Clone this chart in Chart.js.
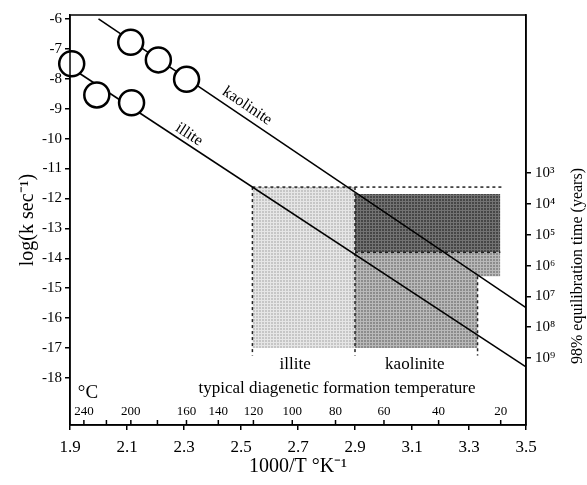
<!DOCTYPE html>
<html>
<head>
<meta charset="utf-8">
<script src="https://cdn.jsdelivr.net/npm/chart.js@4.4.0/dist/chart.umd.min.js"></script>
<style>
  html, body { margin: 0; padding: 0; background: #fff; }
</style>
</head>
<body>
<canvas id="myChart" width="587" height="485"></canvas>
<script>
// measured points (1000/T, log k)
const kaoliniteX = [2.113, 2.21, 2.309];
const kaoliniteY = [-6.78, -7.37, -8.02];
const illiteX = [1.906, 1.994, 2.116];
const illiteY = [-7.5, -8.54, -8.8];

// fitted lines, end points
const kaoliniteFitX = [2.0, 3.5];
const kaoliniteFitY = [-6.0, -15.65];
const illiteFitX = [1.906, 3.5];
const illiteFitY = [-7.65, -17.63];

// shaded boxes: illite, kaolinite (upper), kaolinite (lower parts)
const boxX0 = [2.54, 2.9, 2.9, 2.9];
const boxX1 = [2.9, 3.41, 3.41, 3.33];
const boxTop = [-11.62, -11.85, -13.8, -13.8];
const boxBottom = [-17.0, -13.8, -14.6, -17.0];
const boxTone = ['light', 'dark', 'medium', 'medium'];

// dashed outlines [x0, y0, x1, y1]
const dashSegments = [
    [2.54, -11.62, 2.54, -17.25],
    [2.54, -11.62, 3.415, -11.62],
    [2.9, -11.62, 2.9, -17.25],
    [2.9, -13.8, 3.41, -13.8],
    [3.33, -14.6, 3.33, -17.25]
];

// axis ticks
const xTicks = [1.9, 2.1, 2.3, 2.5, 2.7, 2.9, 3.1, 3.3, 3.5];
const yTicks = [-6, -7, -8, -9, -10, -11, -12, -13, -14, -15, -16, -17, -18];
const timeExponents = [3, 4, 5, 6, 7, 8, 9];
const celsiusTicks = [240, 220, 200, 180, 160, 140, 120, 100, 80, 60, 40, 20];
const celsiusLabels = [240, 200, 160, 140, 120, 100, 80, 60, 40, 20];

const serif = 'Liberation Serif';
const sup = n => String(n).split('').map(c => '⁰¹²³⁴⁵⁶⁷⁸⁹'[+c]).join('');
const toPoints = (xs, ys) => xs.map((x, i) => ({x: x, y: ys[i]}));

let ctx = document.querySelector('#myChart').getContext('2d');

// halftone-like fill: a 3px grid of lighter lines over a base grey
function stipple(base, lines) {
    let c = document.createElement('canvas');
    c.width = 3; c.height = 3;
    let g = c.getContext('2d');
    g.fillStyle = base;
    g.fillRect(0, 0, 3, 3);
    g.fillStyle = lines;
    g.fillRect(0, 0, 3, 1);
    g.fillRect(0, 0, 1, 3);
    return ctx.createPattern(c, 'repeat');
}
const tones = {
    light: stipple('#c6c6c6', '#e6e6e6'),
    dark: stipple('#464646', '#737373'),
    medium: stipple('#8c8c8c', '#b9b9b9')
};

let datasets = [];

// circles on top
datasets.push({
    data: toPoints(kaoliniteX, kaoliniteY).concat(toPoints(illiteX, illiteY)),
    showLine: false,
    pointRadius: 12.5,
    pointBackgroundColor: '#fff',
    pointBorderColor: '#000',
    pointBorderWidth: 2.5,
    clip: false
});

// fit lines
for (const [xs, ys] of [[kaoliniteFitX, kaoliniteFitY], [illiteFitX, illiteFitY]]) {
    datasets.push({
        data: toPoints(xs, ys),
        borderColor: '#000',
        borderWidth: 1.6,
        pointRadius: 0,
        fill: false
    });
}

// dashed box edges
for (const s of dashSegments) {
    datasets.push({
        data: [{x: s[0], y: s[1]}, {x: s[2], y: s[3]}],
        borderColor: '#222',
        borderWidth: 1.5,
        borderDash: [3, 3],
        pointRadius: 0,
        fill: false
    });
}

// boxes: top edge filled down to its bottom edge
for (let i = 0; i < boxX0.length; i++) {
    datasets.push({
        data: [{x: boxX0[i], y: boxTop[i]}, {x: boxX1[i], y: boxTop[i]}],
        borderColor: 'rgba(0,0,0,0)',
        borderWidth: 0,
        pointRadius: 0,
        backgroundColor: tones[boxTone[i]],
        fill: '+1'
    });
    datasets.push({
        data: [{x: boxX0[i], y: boxBottom[i]}, {x: boxX1[i], y: boxBottom[i]}],
        borderColor: 'rgba(0,0,0,0)',
        borderWidth: 0,
        pointRadius: 0,
        fill: false
    });
}

// extra drawing: frame, celsius scale, labels
const extras = {
    id: 'extras',
    afterDraw(chart) {
        const {ctx, chartArea: a, scales: {x, y}} = chart;
        ctx.save();
        ctx.strokeStyle = '#000';
        ctx.lineWidth = 1.5;
        ctx.strokeRect(a.left, a.top, a.right - a.left, a.bottom - a.top);

        // celsius ticks above the bottom axis
        ctx.fillStyle = '#000';
        ctx.textAlign = 'center';
        ctx.textBaseline = 'middle';
        ctx.font = '13px "' + serif + '"';
        for (const t of celsiusTicks) {
            let px = x.getPixelForValue(1000 / (t + 273.15));
            ctx.beginPath();
            ctx.moveTo(px, a.bottom);
            ctx.lineTo(px, a.bottom - 5);
            ctx.stroke();
            if (celsiusLabels.includes(t)) ctx.fillText(String(t), px, a.bottom - 13);
        }
        ctx.font = '19px "' + serif + '"';
        ctx.fillText('°C', a.left + 18, a.bottom - 32);

        // box labels
        ctx.font = '17px "' + serif + '"';
        ctx.fillText('illite', x.getPixelForValue(2.69), y.getPixelForValue(-17.56));
        ctx.fillText('kaolinite', x.getPixelForValue(3.11), y.getPixelForValue(-17.56));
        ctx.fillText('typical diagenetic formation temperature', x.getPixelForValue(2.837), y.getPixelForValue(-18.36));

        // labels along the lines
        ctx.font = '16px "' + serif + '"';
        const lineLabel = (text, xs, ys, atX, d) => {
            let x0 = x.getPixelForValue(xs[0]), y0 = y.getPixelForValue(ys[0]);
            let x1 = x.getPixelForValue(xs[1]), y1 = y.getPixelForValue(ys[1]);
            let th = Math.atan2(y1 - y0, x1 - x0);
            let px = x.getPixelForValue(atX);
            let py = y0 + (px - x0) * Math.tan(th);
            ctx.save();
            ctx.translate(px + d * Math.sin(th), py - d * Math.cos(th));
            ctx.rotate(th);
            ctx.fillText(text, 0, 0);
            ctx.restore();
        };
        lineLabel('kaolinite', kaoliniteFitX, kaoliniteFitY, 2.50, 11);
        lineLabel('illite', illiteFitX, illiteFitY, 2.30, 9);

        // right axis title, reading upwards
        ctx.font = '16px "' + serif + '"';
        ctx.translate(578, (a.top + a.bottom) / 2 + 46);
        ctx.rotate(-Math.PI / 2);
        ctx.fillText('98% equilibration time (years)', 0, 0);
        ctx.restore();
    }
};

let chart = new Chart(ctx, {
    type: 'line',
    data: {datasets: datasets},
    options: {
        responsive: false,
        animation: false,
        devicePixelRatio: 1,
        layout: {padding: {top: 15, left: 0, right: 0, bottom: 0}},
        plugins: {legend: {display: false}, tooltip: {enabled: false}},
        scales: {
            x: {
                type: 'linear',
                min: 1.9,
                max: 3.5,
                afterBuildTicks: s => { s.ticks = xTicks.map(v => ({value: v})); },
                afterFit: s => { s.height = 60; },
                ticks: {callback: v => v.toFixed(1), color: '#000', font: {family: serif, size: 17}, padding: 7, maxRotation: 0},
                grid: {drawOnChartArea: false, tickLength: 5, color: '#000', lineWidth: 1.5},
                border: {color: '#000', width: 1.5},
                title: {display: true, text: '1000/T °K⁻¹', color: '#000', font: {family: serif, size: 20}, padding: {top: 0, bottom: 6}}
            },
            y: {
                type: 'linear',
                position: 'left',
                min: -19.57,
                max: -5.87,
                afterBuildTicks: s => { s.ticks = yTicks.map(v => ({value: v})); },
                afterFit: s => { s.width = 70; },
                ticks: {color: '#000', font: {family: serif, size: 15}, padding: 3},
                grid: {drawOnChartArea: false, tickLength: 5, color: '#000', lineWidth: 1.5},
                border: {color: '#000', width: 1.5},
                title: {display: true, text: 'log(k sec⁻¹)', color: '#000', font: {family: serif, size: 20}, padding: {top: 16, bottom: 0}}
            },
            y2: {
                type: 'linear',
                position: 'right',
                reverse: true,
                min: -2.125,
                max: 11.17,
                afterBuildTicks: s => { s.ticks = timeExponents.map(v => ({value: v})); },
                afterFit: s => { s.width = 61; },
                ticks: {callback: v => '10' + sup(v), color: '#000', font: {family: serif, size: 15}, padding: 4},
                grid: {drawOnChartArea: false, tickLength: 5, color: '#000', lineWidth: 1.5},
                border: {color: '#000', width: 1.5}
            }
        }
    },
    plugins: [extras]
});
</script>
</body>
</html>
